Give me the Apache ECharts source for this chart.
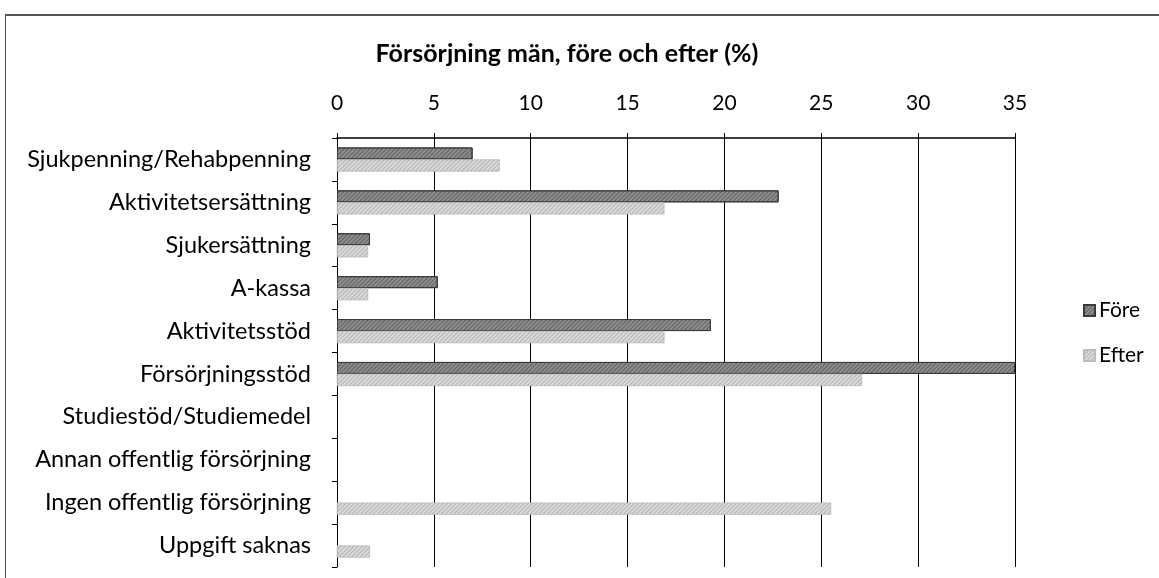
<!DOCTYPE html>
<html>
<head>
<meta charset="utf-8">
<script src="https://cdn.jsdelivr.net/npm/echarts@6/dist/echarts.min.js"></script>
<style>
html,body{margin:0;padding:0;background:#fff;}
#frame{position:absolute;left:5px;top:14px;width:1160px;height:570px;border-left:1px solid #555;border-top:2px solid #555;}
#chart{position:absolute;left:0;top:0;width:1159px;height:578px;}
</style>
</head>
<body>
<div id="frame"></div>
<div id="chart"></div>
<script>
const categories = [
  "Sjukpenning/Rehabpenning",
  "Aktivitetsersättning",
  "Sjukersättning",
  "A-kassa",
  "Aktivitetsstöd",
  "Försörjningsstöd",
  "Studiestöd/Studiemedel",
  "Annan offentlig försörjning",
  "Ingen offentlig försörjning",
  "Uppgift saknas"
];
const fore  = [7.0, 22.8, 1.7, 5.2, 19.3, 35.0, 0, 0, 0, 0];
const efter = [8.4, 16.9, 1.6, 1.6, 16.9, 27.1, 0, 0, 25.5, 1.7];
const xTicks = [0, 5, 10, 15, 20, 25, 30, 35];

const hide0 = arr => arr.map(v => v === 0 ? null : v);

const chart = echarts.init(document.getElementById('chart'), null, {renderer: 'canvas'});
const font = "Lato, 'Open Sans', sans-serif";
chart.setOption({
  animation: false,
  backgroundColor: 'transparent',
  title: {
    text: 'Försörjning män, före och efter (%)',
    left: 562, top: 36, textAlign: 'center',
    textStyle: {fontFamily: font, fontSize: 25, fontWeight: 'bold', color: '#000'}
  },
  legend: {
    orient: 'vertical', left: 1078, top: 295, itemGap: 24,
    itemWidth: 11, itemHeight: 11, icon: 'rect',
    textStyle: {fontFamily: font, fontSize: 21, color: '#000', padding: [0,0,0,-1]},
    data: ['Före', 'Efter']
  },
  grid: {left: 337, right: 144, top: 138, bottom: 11, containLabel: false},
  xAxis: {
    type: 'value', position: 'top', min: xTicks[0], max: xTicks[xTicks.length-1], interval: 5,
    axisLine: {show: true, lineStyle: {color: '#000', width: 1.5}},
    axisTick: {show: true, length: 5, inside: false, lineStyle: {color: '#000'}},
    axisLabel: {fontFamily: font, fontSize: 21, color: '#000', margin: 24},
    splitLine: {show: true, lineStyle: {color: '#000', width: 1}}
  },
  yAxis: {
    type: 'category', inverse: true, data: categories,
    axisLine: {show: true, lineStyle: {color: '#000', width: 1}},
    axisTick: {show: true, length: 5, lineStyle: {color: '#000'}},
    axisLabel: {fontFamily: font, fontSize: 23.5, color: '#000', margin: 26}
  },
  series: [
    {
      name: 'Före', type: 'bar', data: hide0(fore), barWidth: 12, barGap: '0%',
      itemStyle: {
        color: '#8e8e8e', borderColor: '#3a3a3a', borderWidth: 1,
        decal: {symbol: 'rect', symbolSize: 1, color: 'rgba(40,40,40,0.45)', dashArrayX: [1, 0], dashArrayY: [1, 2], rotation: -0.785}
      },
      z: 3
    },
    {
      name: 'Efter', type: 'bar', data: hide0(efter), barWidth: 12,
      itemStyle: {
        color: '#dadada', borderColor: '#bdbdbd', borderWidth: 0.5,
        decal: {symbol: 'rect', symbolSize: 1, color: 'rgba(120,120,120,0.4)', dashArrayX: [1, 0], dashArrayY: [1, 2], rotation: -0.785}
      },
      z: 3
    }
  ]
});
</script>
</body>
</html>
